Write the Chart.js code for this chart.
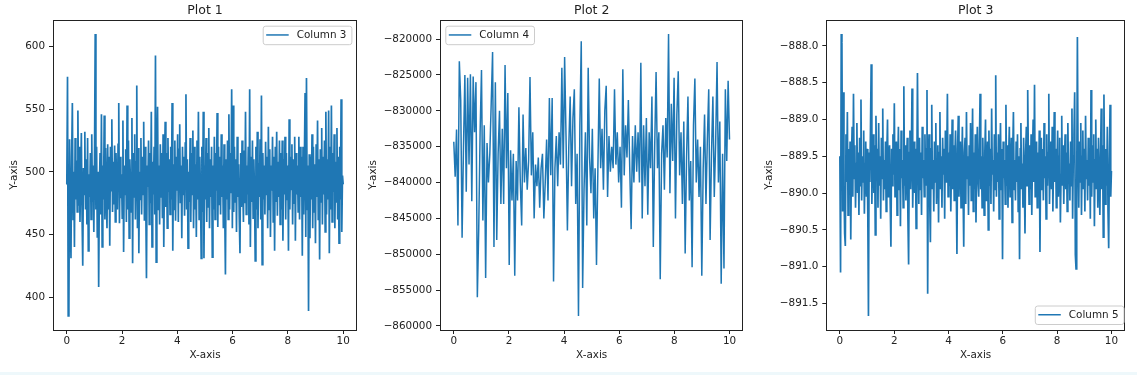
<!DOCTYPE html>
<html>
<head>
<meta charset="utf-8">
<script src="https://cdn.jsdelivr.net/npm/chart.js@4.4.1/dist/chart.umd.min.js"></script>
<style>
  body { margin: 0; background: #fff; width: 1137px; height: 375px; overflow: hidden; position: relative; }
  canvas { position: absolute; top: 0; }
  #strip { position: absolute; left: 0; top: 372px; width: 1137px; height: 3px; background: #eef8fb; }
</style>
</head>
<body>
<canvas id="plot1" width="380" height="372" style="left:0px"></canvas>
<canvas id="plot2" width="400" height="372" style="left:365px"></canvas>
<canvas id="plot3" width="382" height="372" style="left:755px"></canvas>
<div id="strip"></div>
<script>
// x runs 0..10, samples evenly spaced across it
const xTicks = [0, 2, 4, 6, 8, 10];

const column3 = [
  490, 576, 385, 391, 526, 470, 431, 512, 555, 462,
  500, 440, 527, 478, 509, 468, 549, 473, 520, 460,
  495, 531, 466, 425, 503, 482, 532, 470, 510, 458,
  527, 437, 498, 480, 515, 462, 530, 476, 505, 452,
  512, 610, 470, 520, 448, 500, 408, 488, 515, 466,
  546, 440, 505, 478, 545, 462, 519, 483, 455, 522,
  470, 512, 441, 520, 485, 542, 468, 508, 474, 521,
  460, 515, 488, 470, 522, 555, 459, 512, 479, 498,
  463, 541, 436, 505, 482, 518, 460, 553, 470, 525,
  447, 510, 490, 468, 543, 427, 515, 480, 530, 462,
  508, 569, 455, 519, 435, 500, 478, 527, 466, 512,
  482, 540, 461, 520, 474, 415, 505, 488, 525, 458,
  515, 475, 548, 440, 508, 482, 520, 466, 593, 428,
  510, 552, 470, 505, 458, 522, 480, 515, 463, 530,
  440, 500, 540, 472, 515, 455, 527, 484, 510, 466,
  520, 478, 555, 437, 506, 470, 525, 461, 512, 485,
  530, 460, 518, 538, 475, 505, 447, 520, 482, 512,
  465, 523, 562, 470, 510, 439, 500, 476, 527, 460,
  515, 482, 533, 455, 520, 470, 506, 448, 525, 478,
  548, 462, 512, 485, 431, 520, 468, 548, 431, 505,
  478, 527, 460, 515, 472, 535, 455, 510, 480, 520,
  432, 505, 470, 528, 462, 515, 485, 547, 456, 520,
  474, 512, 466, 530, 480, 505, 455, 522, 470, 418,
  510, 478, 525, 462, 546, 470, 515, 483, 566, 455,
  553, 468, 520, 476, 510, 452, 528, 480, 506, 463,
  435, 515, 472, 525, 488, 460, 517, 475, 548, 466,
  505, 482, 520, 458, 566, 440, 512, 476, 525, 463,
  510, 485, 429, 520, 470, 532, 455, 507, 480, 526,
  462, 561, 426, 515, 478, 505, 466, 524, 482, 512,
  455, 536, 470, 518, 448, 505, 485, 528, 460, 512,
  437, 520, 476, 532, 465, 508, 480, 525, 458, 515,
  470, 525, 445, 510, 482, 528, 462, 515, 478, 505,
  437, 542, 470, 512, 486, 522, 458, 510, 475, 528,
  445, 515, 482, 505, 468, 528, 462, 520, 480, 512,
  433, 520, 466, 510, 563, 448, 575, 470, 505, 389,
  514, 447, 512, 478, 530, 455, 520, 468, 506, 443,
  522, 480, 541, 462, 510, 430, 518, 476, 535, 458,
  512, 482, 525, 452, 548, 466, 510, 478, 549, 435,
  520, 470, 553, 460, 515, 484, 530, 455, 508, 476,
  535, 462, 512, 443, 520, 478, 558, 452, 497, 490
];
const yTicks1 = [400, 450, 500, 550, 600];

const column4 = [
  -834300, -839200, -832600, -846000, -823100, -828500, -847700, -835000, -825000, -841300,
  -825400, -837500, -824900, -842600, -825200, -833000, -826000, -856000, -846500, -833000,
  -824300, -845300, -832000, -853300, -834500, -840000, -836000, -829000, -821800, -849000,
  -826000, -848000, -836000, -830000, -843000, -832500, -843000, -823600, -838000, -827500,
  -851500, -835500, -842500, -836000, -853000, -837000, -842500, -829500, -840000, -846000,
  -830500, -840000, -835200, -841000, -837000, -825300, -839000, -833000, -845000, -837500,
  -840500, -836500, -843500, -838000, -836000, -845000, -840000, -834000, -842500, -828200,
  -839000, -828200, -853800, -838000, -833500, -840500, -833000, -837500, -824000, -838000,
  -822500, -833500, -846700, -835000, -828000, -840500, -831000, -827000, -843000, -836000,
  -858600, -832000, -820300, -854700, -841000, -833000, -846000, -824000, -836500, -841500,
  -832500, -845000, -838000, -851500, -838000, -825500, -838000, -832500, -841000, -830000,
  -826500, -842000, -833500, -838500, -835000, -838000, -827000, -837500, -833000, -840000,
  -835000, -843500, -824200, -839000, -832000, -836500, -828500, -838000, -846500, -833500,
  -840000, -832000, -838500, -833000, -840000, -823300, -845000, -832000, -840500, -831000,
  -844500, -833000, -838000, -828000, -849000, -835000, -824600, -838000, -833000, -853500,
  -836000, -832000, -841000, -831000, -836500, -819300, -841500, -829000, -837000, -825400,
  -845000, -830500, -824500, -839000, -833000, -843000, -831500, -849900, -836500, -828000,
  -842500, -837000, -851800, -832000, -825500, -840000, -834000, -842000, -835000, -853000,
  -838000, -830500, -843000, -834000, -827000, -848000, -836000, -828000, -842000, -834500,
  -823200, -840000, -831500, -854100, -836000, -852000, -827000, -837000, -825800, -834000
];
const yTicks2 = [-860000, -855000, -850000, -845000, -840000, -835000, -830000, -825000, -820000];

const column5 = [
  -889.50, -891.08, -887.84, -887.95, -890.25, -888.63, -889.90, -890.55, -890.72, -889.20,
  -889.85, -888.90, -890.30, -889.40, -889.95, -889.30, -890.63, -889.55, -889.10, -890.05,
  -888.65, -889.80, -889.35, -890.20, -889.60, -889.05, -890.00, -889.45, -890.30, -889.25,
  -889.90, -888.73, -890.10, -889.50, -889.85, -889.15, -890.28, -889.60, -889.30, -890.05,
  -889.40, -890.25, -891.67, -889.45, -889.85, -889.10, -888.25, -890.15, -889.55, -889.20,
  -890.00, -889.35, -890.57, -888.95, -889.75, -889.40, -890.20, -889.05, -889.90, -889.50,
  -890.35, -889.25, -889.80, -888.85, -890.10, -889.55, -889.95, -889.30, -890.25, -889.45,
  -889.00, -890.05, -889.60, -889.35, -890.15, -890.73, -889.40, -889.90, -889.20, -889.75,
  -888.78, -890.05, -889.50, -889.30, -890.30, -889.65, -889.10, -889.95, -889.40, -890.45,
  -889.15, -889.80, -889.55, -890.20, -888.55, -889.90, -889.35, -890.10, -889.60, -889.25,
  -890.35, -890.97, -889.45, -889.15, -889.95, -889.50, -888.58, -890.20, -889.70, -889.30,
  -890.00, -889.40, -890.48, -889.85, -888.37, -889.60, -890.15, -889.25, -889.95, -889.45,
  -890.30, -889.10, -889.80, -889.55, -890.05, -889.20, -889.90, -889.40, -888.60, -891.37,
  -889.50, -889.20, -890.10, -890.67, -889.40, -888.80, -889.95, -889.55, -890.25, -889.30,
  -889.85, -889.05, -890.15, -889.60, -889.35, -890.40, -889.45, -888.90, -889.95, -889.50,
  -890.20, -889.25, -889.75, -889.40, -890.35, -889.15, -889.85, -889.55, -888.65, -890.05,
  -889.45, -889.90, -889.20, -890.25, -889.60, -889.00, -889.95, -889.35, -890.10, -889.50,
  -889.15, -889.85, -890.83, -889.40, -888.95, -890.05, -889.55, -889.30, -890.20, -889.70,
  -889.10, -889.95, -890.73, -889.45, -889.25, -890.15, -888.90, -889.80, -889.50, -890.30,
  -889.35, -889.90, -889.05, -890.10, -889.60, -888.85, -890.25, -889.45, -889.95, -889.20,
  -890.40, -889.55, -889.10, -889.85, -890.05, -889.35, -888.65, -889.95, -889.50, -890.20,
  -889.25, -889.80, -890.30, -889.45, -889.00, -890.10, -889.60, -889.30, -890.50, -889.15,
  -889.90, -889.40, -890.15, -888.85, -889.75, -889.55, -890.25, -889.20, -889.95, -888.40,
  -890.05, -889.45, -889.85, -889.20, -890.35, -889.60, -889.05, -889.95, -889.40, -890.90,
  -889.30, -889.80, -889.55, -890.15, -888.80, -889.90, -889.35, -890.20, -889.50, -889.10,
  -890.05, -889.65, -889.25, -890.40, -889.45, -888.90, -889.95, -889.55, -890.10, -889.30,
  -889.85, -889.20, -890.25, -889.50, -890.90, -889.40, -889.05, -889.95, -889.60, -890.20,
  -889.25, -889.80, -890.55, -889.45, -889.10, -889.90, -888.60, -889.55, -890.15, -889.35,
  -889.95, -889.20, -890.30, -889.50, -889.00, -889.85, -888.53, -890.05, -889.60, -889.30,
  -890.20, -889.45, -889.90, -889.15, -890.80, -889.55, -889.25, -889.95, -889.40, -890.10,
  -889.05, -889.80, -889.50, -890.35, -889.20, -889.90, -889.45, -888.65, -890.15, -889.60,
  -889.30, -889.95, -889.10, -890.25, -889.55, -888.90, -889.85, -889.40, -890.20, -889.65,
  -889.15, -890.05, -889.50, -889.25, -890.40, -889.75, -888.95, -889.90, -889.35, -890.15,
  -889.55, -889.20, -889.95, -889.45, -890.25, -889.05, -889.80, -889.60, -890.10, -889.30,
  -889.90, -888.85, -890.35, -889.50, -889.20, -888.63, -890.84, -891.03, -889.95, -887.88,
  -889.60, -890.20, -889.30, -889.85, -889.05, -890.30, -889.50, -889.15, -889.95, -889.40,
  -890.25, -888.95, -889.80, -889.55, -890.10, -889.25, -889.90, -889.45, -890.35, -888.60,
  -890.05, -889.35, -889.85, -889.20, -890.45, -889.55, -889.00, -889.95, -889.40, -890.20,
  -889.25, -889.80, -890.30, -889.50, -888.85, -889.95, -889.35, -890.60, -888.66, -889.75,
  -890.15, -889.40, -889.90, -889.10, -890.25, -890.75, -889.55, -888.80, -890.05, -889.70
];
const yTicks3 = [-891.5, -891.0, -890.5, -890.0, -889.5, -889.0, -888.5, -888.0];

const BLUE = '#1f77b4';
const FONT = '"DejaVu Sans", sans-serif';

// matplotlib-like frame around the axes
const frame = {
  id: 'frame',
  afterDatasetsDraw(chart) {
    const { ctx, chartArea: a } = chart;
    ctx.save();
    ctx.strokeStyle = '#222';
    ctx.lineWidth = 1;
    ctx.strokeRect(Math.round(a.left) + 0.5, Math.round(a.top) + 0.5,
      Math.round(a.right - a.left) - 1, Math.round(a.bottom - a.top));
    ctx.restore();
  }
};

// legend box drawn inside the axes, like matplotlib's loc=...
const boxLegend = {
  id: 'boxLegend',
  afterDraw(chart, args, opts) {
    const { ctx, chartArea: a } = chart;
    const label = chart.data.datasets[0].label;
    ctx.save();
    ctx.font = '10.4px ' + FONT;
    const w = 3.5 + 22.5 + 8 + ctx.measureText(label).width + 5;
    const h = 18.5;
    const x = opts.loc.includes('right') ? a.right - opts.dx - w : a.left + opts.dx;
    const y = opts.loc.includes('upper') ? a.top + 5.7 : a.bottom - 6 - h;
    ctx.beginPath();
    ctx.roundRect(x + 0.5, y + 0.5, w, h, 2.5);
    ctx.fillStyle = 'rgba(255,255,255,0.8)';
    ctx.fill();
    ctx.strokeStyle = '#cccccc';
    ctx.lineWidth = 1;
    ctx.stroke();
    ctx.beginPath();
    ctx.moveTo(x + 3.5, y + h / 2);
    ctx.lineTo(x + 26, y + h / 2);
    ctx.strokeStyle = BLUE;
    ctx.lineWidth = 1.5;
    ctx.stroke();
    ctx.fillStyle = '#222';
    ctx.textBaseline = 'middle';
    ctx.fillText(label, x + 34, y + h / 2 + 0.5);
    ctx.restore();
  }
};

function makeChart(id, title, label, values, yTicks, decimals, legend, geo) {
  const lo = Math.min(...values), hi = Math.max(...values);
  const pad = (hi - lo) * 0.05;
  const points = values.map((v, i) => ({ x: i * 10 / (values.length - 1), y: v }));
  const fmt = v => (v < 0 ? '\u2212' : '') + Math.abs(v).toFixed(decimals);
  const tickFont = { family: FONT, size: 10.4 };

  return new Chart(document.getElementById(id), {
    type: 'line',
    data: {
      datasets: [{
        label: label,
        data: points,
        borderColor: BLUE,
        borderWidth: geo.lineWidth,
        pointRadius: 0,
        tension: 0,
        fill: false
      }]
    },
    options: {
      responsive: false,
      animation: false,
      events: [],
      layout: { padding: { left: 0, right: geo.padRight, top: 0, bottom: 0 } },
      plugins: {
        legend: { display: false },
        tooltip: { enabled: false },
        title: {
          display: true,
          text: title,
          fullSize: false,
          color: '#222',
          font: { family: FONT, size: 12.5, weight: 'normal' },
          padding: { top: 3.5, bottom: 1.5 }
        },
        boxLegend: legend
      },
      scales: {
        x: {
          type: 'linear',
          min: -0.5,
          max: 10.5,
          afterBuildTicks: s => { s.ticks = xTicks.map(v => ({ value: v })); },
          afterFit: s => { s.height = 42; },
          grid: { drawOnChartArea: false, drawTicks: true, tickLength: 4, tickColor: '#222' },
          border: { display: false },
          ticks: { color: '#222', font: tickFont, padding: 1, maxRotation: 0, callback: v => String(v) },
          title: { display: true, text: 'X-axis', color: '#222', font: tickFont, padding: { top: 0, bottom: 10 } }
        },
        y: {
          min: lo - pad,
          max: hi + pad,
          afterBuildTicks: s => { s.ticks = yTicks.map(v => ({ value: v })); },
          afterFit: s => { s.width = geo.yWidth; },
          grid: { drawOnChartArea: false, drawTicks: true, tickLength: 4, tickColor: '#222' },
          border: { display: false },
          ticks: { color: '#222', font: tickFont, padding: 4, callback: v => fmt(v) },
          title: { display: true, text: 'Y-axis', color: '#222', font: tickFont, padding: { top: geo.yTitlePad, bottom: 0 } }
        }
      }
    },
    plugins: [frame, boxLegend]
  });
}

makeChart('plot1', 'Plot 1', 'Column 3', column3, yTicks1, 0,
  { loc: 'upper right', dx: 5.6 }, { yWidth: 53, padRight: 23, yTitlePad: 7.8, lineWidth: 1.7 });
makeChart('plot2', 'Plot 2', 'Column 4', column4, yTicks2, 0,
  { loc: 'upper left', dx: 5.3 }, { yWidth: 75, padRight: 21.7, yTitlePad: 1.8, lineWidth: 1.5 });
makeChart('plot3', 'Plot 3', 'Column 5', column5, yTicks3, 1,
  { loc: 'lower right', dx: 1.5 }, { yWidth: 71.3, padRight: 12, yTitlePad: 7.8, lineWidth: 1.7 });
</script>
</body>
</html>
